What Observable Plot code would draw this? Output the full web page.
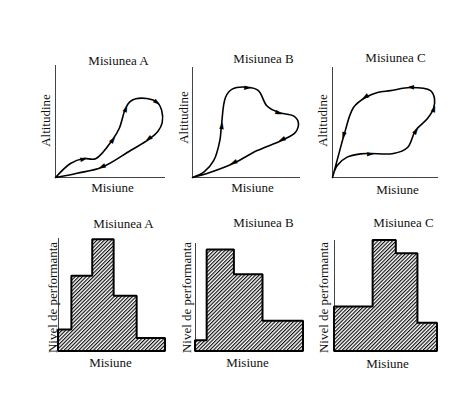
<!DOCTYPE html>
<html>
<head>
<meta charset="utf-8">
<script src="https://cdn.jsdelivr.net/npm/d3@7"></script>
<script src="https://cdn.jsdelivr.net/npm/@observablehq/plot@0.6"></script>
<style>
  html, body { margin: 0; padding: 0; background: #fff; }
  #chart { position: relative; width: 462px; height: 393px; background: #fff; overflow: hidden; }
  #chart svg { position: absolute; }
</style>
</head>
<body>
<div id="chart"></div>
<script>
// ---------- data ----------
const titles = ["Misiunea A", "Misiunea B", "Misiunea C"];
const xLabel = "Misiune";
const yLabelTop = "Altitudine";
const yLabelBottom = "Nivel de performanta";

// altitude loops (mission progress vs altitude, 0..100)
const loopA_x = [0, 13.6, 25.5, 36.4, 52, 58, 63.6, 67.5, 73, 83, 92.4, 96.5, 97, 93, 84.8, 68.2, 42.4, 19.7, 0];
const loopA_y = [0, 12.5, 17, 16.7, 34, 44, 61.6, 67.5, 70.3, 70.5, 67.2, 60, 49, 41, 34, 24.1, 9.2, 3.8, 0];
const loopA_arrows = [2, 4, 6, 10, 14, 16];

const loopB_x = [0, 10.5, 19.7, 25.3, 26.8, 30.6, 36.7, 51, 61, 69, 80, 93.5, 98, 95.4, 83, 59.9, 38.2, 16.7, 0];
const loopB_y = [0, 4.8, 15.5, 33.6, 47, 73, 80.3, 82, 79, 65, 59, 56, 50, 41.2, 33.9, 24.5, 13, 4.8, 0];
const loopB_arrows = [4, 7, 10, 14, 16];

const loopC_x = [0, 4.4, 13.8, 26.4, 35.8, 57.5, 70.8, 78.3, 89.6, 95.3, 96.2, 92.5, 73.6, 54.7, 42.5, 31, 19.8, 10.7, 6, 0];
const loopC_y = [0, 10.9, 18.5, 21.5, 21.8, 21.8, 27.3, 42.7, 53.6, 62.7, 71.8, 79, 81.8, 79, 77.3, 72.7, 63.6, 38, 21.5, 0];
const loopC_arrows = [4, 7, 9, 12, 15, 17];

// performance level steps (segment boundaries along the mission, level per segment)
const barsA_breaks = [0, 12.5, 32, 52, 73.5, 100];
const barsA_values = [19, 66.5, 99, 49, 11.5];
const barsB_breaks = [0, 10.8, 36, 62.5, 100];
const barsB_values = [10, 94, 71, 28];
const barsC_breaks = [0, 37.5, 60, 81, 100];
const barsC_values = [40, 100, 88, 25.5];

// ---------- layout (page pixels of each panel's axis box and labels) ----------
const layouts = {
  topA: {ax: [55, 165], ay: [65, 177], title: [118, 60], xl: [112, 187], yl: [45, 120]},
  topB: {ax: [192, 300], ay: [67, 177], title: [263, 58], xl: [252, 187], yl: [183, 117]},
  topC: {ax: [332, 438], ay: [67, 177], title: [395, 57], xl: [397, 189], yl: [322, 120]},
  botA: {ax: [58, 165], ay: [238, 351], title: [123, 223], xl: [110, 362], yl: [52, 297]},
  botB: {ax: [195, 303], ay: [243, 351], title: [263, 222], xl: [247, 362], yl: [186, 297]},
  botC: {ax: [334, 437], ay: [240, 351], title: [403, 222], xl: [387, 363], yl: [323, 297]}
};

const FONT = "'Liberation Serif', 'Times New Roman', 'DejaVu Serif', serif";
const ML = 40, MR = 6, MT = 30, MB = 22;
const chart = document.getElementById("chart");

function labelMarks(L, title, yLabel) {
  const fcx = (L.ax[0] + L.ax[1]) / 2, fcy = (L.ay[0] + L.ay[1]) / 2;
  const common = {fontFamily: FONT, fontSize: 13, fill: "#111", textAnchor: "middle", lineAnchor: "middle"};
  return [
    Plot.text([title], {...common, text: d => d, frameAnchor: "top", dx: L.title[0] - fcx, dy: L.title[1] - L.ay[0]}),
    Plot.text([xLabel], {...common, text: d => d, frameAnchor: "bottom", dx: L.xl[0] - fcx, dy: L.xl[1] - L.ay[1]}),
    Plot.text([yLabel], {...common, text: d => d, frameAnchor: "left", rotate: -90, dx: L.yl[0] - L.ax[0], dy: L.yl[1] - fcy})
  ];
}

function mount(L, marks, withDefs) {
  const fw = L.ax[1] - L.ax[0], fh = L.ay[1] - L.ay[0];
  const svg = Plot.plot({
    width: fw + ML + MR,
    height: fh + MT + MB,
    marginLeft: ML, marginRight: MR, marginTop: MT, marginBottom: MB,
    x: {domain: [0, 100], axis: null},
    y: {domain: [0, 100], axis: null},
    style: {fontFamily: FONT, fontSize: "13px", background: "transparent", overflow: "visible"},
    marks
  });
  svg.style.left = (L.ax[0] - ML) + "px";
  svg.style.top = (L.ay[0] - MT) + "px";
  if (withDefs) withDefs(svg);
  chart.appendChild(svg);
}

function loopPanel(L, title, xs, ys, arrowIdx) {
  const fw = L.ax[1] - L.ax[0], fh = L.ay[1] - L.ay[0];
  const pts = xs.map((x, i) => ({x, y: ys[i]}));
  const arrows = arrowIdx.map(i => {
    const a = pts[i - 1], b = pts[i + 1];
    const dx = (b.x - a.x) * fw / 100, dy = -(b.y - a.y) * fh / 100;
    return {x: pts[i].x, y: pts[i].y, angle: Math.atan2(dy, dx) * 180 / Math.PI};
  });
  mount(L, [
    Plot.ruleX([0], {y1: 0, y2: 100, stroke: "#444", strokeWidth: 1}),
    Plot.ruleY([0], {x1: 0, x2: 100, stroke: "#444", strokeWidth: 1}),
    Plot.line(pts, {x: "x", y: "y", curve: "catmull-rom", stroke: "#000", strokeWidth: 1.6}),
    Plot.text(arrows, {x: "x", y: "y", text: () => "\u25BA", rotate: "angle", fontSize: 9, fontFamily: "DejaVu Sans", fill: "#000", textAnchor: "middle", lineAnchor: "middle"}),
    ...labelMarks(L, title, yLabelTop)
  ]);
}

function stepPanel(L, title, breaks, values, id) {
  const pts = values.map((v, i) => ({x: breaks[i], y: v}));
  pts.push({x: breaks[breaks.length - 1], y: values[values.length - 1]});
  mount(L, [
    Plot.ruleX([0], {y1: 0, y2: 100, stroke: "#444", strokeWidth: 1}),
    Plot.areaY(pts, {x: "x", y: "y", curve: "step-after", fill: `url(#${id})`, stroke: "#000", strokeWidth: 2, strokeLinejoin: "miter"}),
    ...labelMarks(L, title, yLabelBottom)
  ], svg => {
    const defs = d3.select(svg).insert("defs", ":first-child");
    const p = defs.append("pattern").attr("id", id)
      .attr("patternUnits", "userSpaceOnUse").attr("width", 2.6).attr("height", 2.6)
      .attr("patternTransform", "rotate(45)");
    p.append("rect").attr("width", 2.6).attr("height", 2.6).attr("fill", "#fff");
    p.append("line").attr("x1", 0.6).attr("y1", 0).attr("x2", 0.6).attr("y2", 2.6)
      .attr("stroke", "#000").attr("stroke-width", 1.1);
  });
}

loopPanel(layouts.topA, titles[0], loopA_x, loopA_y, loopA_arrows);
loopPanel(layouts.topB, titles[1], loopB_x, loopB_y, loopB_arrows);
loopPanel(layouts.topC, titles[2], loopC_x, loopC_y, loopC_arrows);
stepPanel(layouts.botA, titles[0], barsA_breaks, barsA_values, "hatchA");
stepPanel(layouts.botB, titles[1], barsB_breaks, barsB_values, "hatchB");
stepPanel(layouts.botC, titles[2], barsC_breaks, barsC_values, "hatchC");
</script>
</body>
</html>
